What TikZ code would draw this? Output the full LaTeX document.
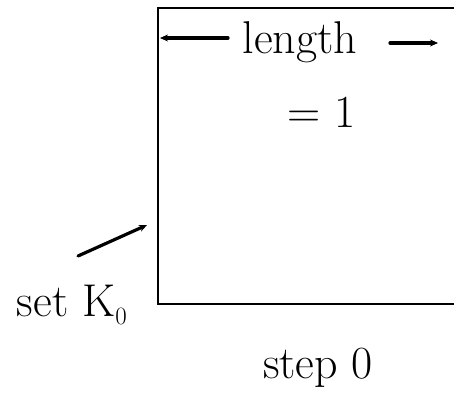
\documentclass[tikz,border=0pt]{standalone}
\usetikzlibrary{arrows.meta}
\begin{document}
\begin{tikzpicture}[x=1pt,y=-1pt,
  hand/.style={font=\fontsize{46}{50}\selectfont, inner sep=0pt},
  pen/.style={line width=3.2pt, line cap=round},
  arr/.style={pen, -{Stealth[length=8pt,width=7pt]}}]
\useasboundingbox (0,0) rectangle (454,413);
\begin{scope}
\clip (0,0) rectangle (454,413);
\draw[line width=2pt] (470,8) -- (158,8) -- (158,304) -- (470,304);
\end{scope}
\node[hand] (len) at (300,42) {length};
\node[hand] (eq) at (322,112) {= 1};
\coordinate (la) at (160,38);
\coordinate (ra) at (438,43);
\coordinate (ls) at (228,38);
\coordinate (rs) at (390,43);
\draw[arr] (ls) -- (la);
\draw[arr] (rs) -- (ra);
\node[hand] (set) at (72,305) {set K$_0$};
\coordinate (tip) at (147,225);
\coordinate (tail) at (78,256);
\draw[arr] (tail) -- (tip);
\node[hand] (step) at (318,368) {step 0};
\end{tikzpicture}
\end{document}
